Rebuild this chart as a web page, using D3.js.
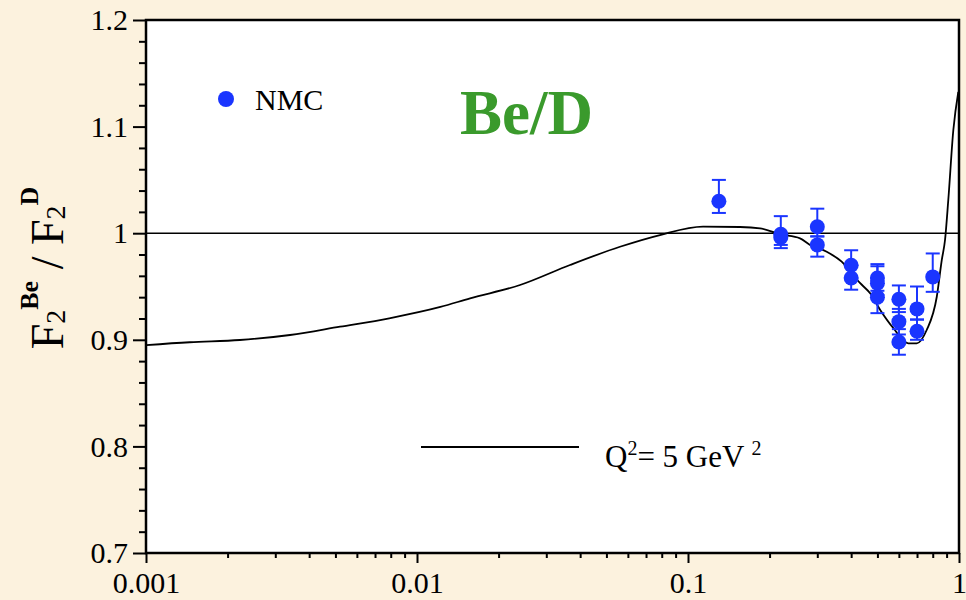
<!DOCTYPE html>
<html>
<head>
<meta charset="utf-8">
<script src="https://cdn.jsdelivr.net/npm/d3@7"></script>
<style>
  html, body { margin: 0; padding: 0; background: #fcf2de; }
  svg { display: block; }
  text { font-family: "Liberation Serif", "Times New Roman", serif; }
</style>
</head>
<body>
<div id="chart"></div>
<script>
// axis ticks
var xTicks = [0.001, 0.01, 0.1, 1];
var yTicks = [0.7, 0.8, 0.9, 1, 1.1, 1.2];

// model curve, Q2 = 5 GeV2
var curveX = [0.001, 0.00145, 0.00222, 0.0034, 0.0052, 0.0079, 0.0122, 0.0157, 0.024, 0.0367,
              0.0561, 0.0788, 0.1136, 0.1556, 0.1845, 0.2186, 0.259, 0.282, 0.325, 0.369,
              0.431, 0.470, 0.512, 0.573, 0.650, 0.698, 0.760, 0.828, 0.864, 0.888,
              0.913, 0.953, 0.994];
var curveY = [0.895, 0.8977, 0.8998, 0.9045, 0.9123, 0.9202, 0.9308, 0.9389, 0.9514, 0.9702,
              0.9873, 0.9983, 1.0061, 1.0058, 1.0046, 0.999, 0.9952, 0.989, 0.9826, 0.9733,
              0.9533, 0.9436, 0.928, 0.9108, 0.8967, 0.8967, 0.9092, 0.9404, 0.9749, 0.9936,
              1.0311, 1.0968, 1.1325];

// NMC data points with error bar ends
var nmcX  = [0.13, 0.22, 0.22, 0.30, 0.30, 0.40, 0.40, 0.50, 0.50, 0.50, 0.60, 0.60, 0.60, 0.70, 0.70, 0.80];
var nmcY  = [1.030, 0.999, 0.996, 1.006, 0.989, 0.970, 0.958, 0.958, 0.953, 0.940, 0.938, 0.917, 0.898, 0.929, 0.908, 0.959];
var nmcLo = [1.019, 0.986, 0.989, 0.997, 0.978, 0.958, 0.947, 0.946, 0.942, 0.925, 0.926, 0.905, 0.886, 0.919, 0.900, 0.945];
var nmcHi = [1.050, 1.016, 0.999, 1.023, 0.997, 0.984, 0.970, 0.971, 0.969, 0.955, 0.951, 0.929, 0.910, 0.950, 0.919, 0.981];

var W = 966, H = 600;
var margin = {top: 20, right: 7, bottom: 47, left: 146};
var width = W - margin.left - margin.right,
    height = H - margin.top - margin.bottom;

var blue = "#1a35ff", green = "#3a9a2c";

var svg = d3.select("#chart").append("svg")
    .attr("width", W)
    .attr("height", H);

var x = d3.scaleLog().domain([0.001, 1]).range([0, width]);
var y = d3.scaleLinear().domain([0.7, 1.2]).range([height, 0]);

var g = svg.append("g")
    .attr("transform", "translate(" + margin.left + "," + margin.top + ")");

// white plot area
g.append("rect")
    .attr("width", width)
    .attr("height", height)
    .attr("fill", "#fff");

g.append("clipPath").attr("id", "clip")
  .append("rect").attr("width", width).attr("height", height);

// minor ticks
var xMinor = [];
[0.001, 0.01, 0.1].forEach(function(d) {
  for (var k = 2; k <= 9; k++) xMinor.push(d * k);
});
var yMinor = d3.range(0.72, 1.2, 0.02).filter(function(v) {
  return Math.abs(v * 10 - Math.round(v * 10)) > 0.01;
});

g.append("g")
    .attr("transform", "translate(0," + height + ")")
    .call(d3.axisBottom(x).tickValues(xMinor).tickSize(5).tickFormat(""));
g.append("g")
    .call(d3.axisLeft(y).tickValues(yMinor).tickSize(7).tickFormat(""));

var xAxis = g.append("g")
    .attr("transform", "translate(0," + height + ")")
    .call(d3.axisBottom(x).tickValues(xTicks).tickSize(10).tickPadding(9)
      .tickFormat(function(d) { return String(d); }));
var yAxis = g.append("g")
    .call(d3.axisLeft(y).tickValues(yTicks).tickSize(13).tickPadding(5)
      .tickFormat(function(d) { return String(+d.toFixed(1)); }));

g.selectAll(".domain").remove();
g.selectAll(".tick line").attr("stroke", "#000").attr("stroke-width", 2);
[xAxis, yAxis].forEach(function(a) {
  a.selectAll("text").attr("font-size", 30).attr("fill", "#000")
    .style("font-family", "'Liberation Serif', serif");
});

// frame
g.append("rect")
    .attr("width", width)
    .attr("height", height)
    .attr("fill", "none")
    .attr("stroke", "#000")
    .attr("stroke-width", 2.5);

// line at ratio 1
g.append("line")
    .attr("x1", 0).attr("x2", width)
    .attr("y1", y(1)).attr("y2", y(1))
    .attr("stroke", "#000")
    .attr("stroke-width", 1.6);

// model curve
var curve = curveX.map(function(d, i) { return [d, curveY[i]]; });
g.append("path")
    .datum(curve)
    .attr("clip-path", "url(#clip)")
    .attr("fill", "none")
    .attr("stroke", "#000")
    .attr("stroke-width", 1.8)
    .attr("d", d3.line()
      .x(function(d) { return x(d[0]); })
      .y(function(d) { return y(d[1]); })
      .curve(d3.curveMonotoneX));

// NMC points
var pts = nmcX.map(function(d, i) {
  return {x: d, y: nmcY[i], lo: nmcLo[i], hi: nmcHi[i]};
});
var eb = g.append("g").attr("stroke", blue).attr("stroke-width", 2);
pts.forEach(function(p) {
  var cx = x(p.x);
  eb.append("line").attr("x1", cx).attr("x2", cx).attr("y1", y(p.lo)).attr("y2", y(p.hi));
  eb.append("line").attr("x1", cx - 7).attr("x2", cx + 7).attr("y1", y(p.lo)).attr("y2", y(p.lo));
  eb.append("line").attr("x1", cx - 7).attr("x2", cx + 7).attr("y1", y(p.hi)).attr("y2", y(p.hi));
});
g.selectAll(".pt")
    .data(pts)
  .enter().append("circle")
    .attr("class", "pt")
    .attr("cx", function(d) { return x(d.x); })
    .attr("cy", function(d) { return y(d.y); })
    .attr("r", 7.5)
    .attr("fill", blue);

// legend: NMC
svg.append("circle").attr("cx", 226).attr("cy", 99).attr("r", 8).attr("fill", blue);
svg.append("text").attr("x", 255).attr("y", 110)
    .attr("font-size", 30).text("NMC");

// title
svg.append("text").attr("x", 460).attr("y", 134)
    .attr("font-size", 63).attr("font-weight", "bold")
    .attr("fill", green).text("Be/D");

// legend: curve
svg.append("line").attr("x1", 421).attr("x2", 579).attr("y1", 447).attr("y2", 447)
    .attr("stroke", "#000").attr("stroke-width", 1.8);
var q = svg.append("text").attr("x", 605).attr("y", 467).attr("font-size", 31);
q.append("tspan").text("Q");
q.append("tspan").attr("font-size", 20).attr("dy", -12).text("2");
q.append("tspan").attr("dy", 12).text("= 5 GeV ");
q.append("tspan").attr("font-size", 20).attr("dy", -12).text("2");

// y axis title
var yl = svg.append("text")
    .attr("transform", "translate(63,268) rotate(-90)")
    .attr("text-anchor", "middle")
    .attr("font-size", 46);
yl.append("tspan").text("F");
yl.append("tspan").attr("font-size", 28).attr("dy", 2).text("2");
yl.append("tspan").attr("font-size", 26).attr("font-weight", "bold").attr("dy", -27).text("Be");
yl.append("tspan").attr("dy", 25).text(" / F");
yl.append("tspan").attr("font-size", 28).attr("dy", 2).text("2");
yl.append("tspan").attr("font-size", 26).attr("font-weight", "bold").attr("dy", -27).text("D");
</script>
</body>
</html>
